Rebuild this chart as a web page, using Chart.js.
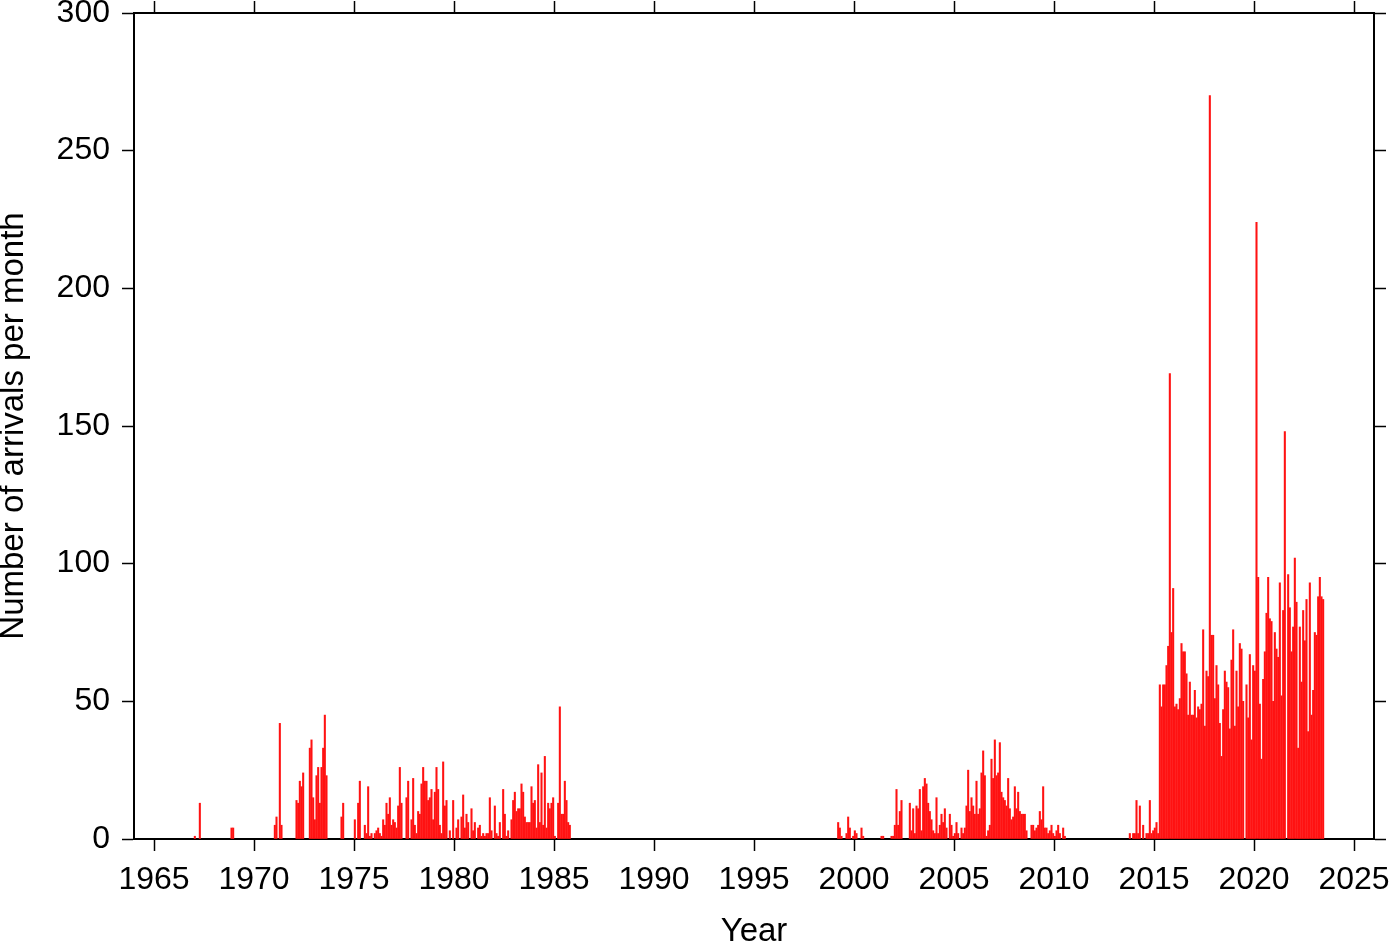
<!DOCTYPE html>
<html>
<head>
    <title>Arrivals per month</title>
    <script src="https://cdn.jsdelivr.net/npm/chart.js"></script>
    <style>
        body { margin: 0; background: #fff; }
        canvas { display: block; }
    </style>
</head>
<body>
    <canvas id="arrivalsChart" width="1400" height="942"></canvas>
    <script>
        // tick labels
        const xTicks = [1965, 1970, 1975, 1980, 1985, 1990, 1995, 2000, 2005, 2010, 2015, 2020, 2025];
        const yTicks = [0, 50, 100, 150, 200, 250, 300];

        // monthly counts, one row per year, starting in January of the given year
        const start1 = 1967;
        const counts1 = [
            1, 0, 0, 13, 0, 0, 0, 0, 0, 0, 0, 0,
            0, 0, 0, 0, 0, 0, 0, 0, 0, 0, 4, 4,
            0, 0, 0, 0, 0, 0, 0, 0, 0, 0, 0, 0,
            0, 0, 0, 0, 0, 0, 0, 0, 0, 0, 0, 0,
            5, 8, 0, 42, 5, 0, 0, 0, 0, 0, 0, 0,
            0, 14, 13, 21, 19, 24, 0, 0, 0, 33, 36, 15,
            7, 23, 26, 13, 26, 33, 45, 23, 0, 0, 0, 0,
            0, 0, 0, 0, 8, 13, 0, 0, 0, 0, 0, 0,
            7, 0, 13, 21, 0, 0, 5, 2, 19, 1, 2, 0,
            2, 3, 4, 2, 1, 7, 5, 13, 9, 15, 5, 7,
            6, 4, 12, 26, 13, 0, 0, 15, 21, 0, 7, 22,
            5, 2, 10, 9, 20, 26, 21, 21, 14, 15, 18, 7,
            17, 26, 18, 5, 2, 28, 12, 14, 0, 3, 0, 14,
            0, 4, 7, 0, 8, 16, 4, 9, 6, 0, 11, 3,
            6, 0, 4, 5, 1, 2, 1, 2, 2, 15, 3, 0,
            12, 2, 1, 6, 0, 18, 9, 1, 3, 0, 7, 14,
            17, 10, 11, 11, 20, 17, 8, 6, 6, 6, 19, 13,
            14, 4, 27, 6, 24, 5, 30, 4, 13, 11, 13, 15,
            1, 0, 13, 48, 9, 9, 21, 14, 6, 5, 0, 0
        ];

        const start2 = 1999;
        const counts2 = [
            0, 0, 6, 4, 1, 0, 0, 2, 8, 4, 0, 1,
            3, 2, 0, 0, 4, 1, 0, 0, 0, 0, 0, 0,
            0, 0, 0, 0, 1, 1, 0, 0, 0, 0, 1, 1,
            5, 18, 5, 10, 14, 0, 0, 0, 0, 13, 3, 11,
            2, 12, 11, 18, 3, 19, 22, 20, 13, 10, 7, 3,
            2, 15, 2, 5, 9, 6, 11, 4, 0, 9, 5, 1,
            2, 6, 2, 0, 4, 2, 4, 12, 25, 10, 15, 12,
            9, 21, 9, 11, 24, 32, 23, 1, 3, 5, 29, 22,
            36, 23, 24, 35, 17, 15, 14, 12, 22, 11, 7, 8,
            19, 11, 17, 10, 9, 9, 9, 3, 0, 0, 5, 5,
            3, 4, 5, 10, 7, 19, 4, 4, 2, 3, 5, 2,
            1, 3, 5, 2, 0, 4, 1
        ];

        const start3 = 2013;
        const counts3 = [
            0, 0, 0, 0, 0, 0, 0, 0, 0, 2, 0, 2,
            2, 14, 2, 12, 0, 5, 0, 2, 2, 14, 2, 3,
            4, 6, 2, 56, 48, 56, 56, 63, 70, 169, 75, 91,
            48, 49, 47, 51, 71, 68, 68, 60, 45, 57, 45, 45,
            54, 44, 48, 47, 49, 76, 41, 61, 59, 270, 74, 74,
            51, 63, 56, 42, 30, 47, 61, 57, 55, 40, 65, 76,
            41, 61, 48, 71, 69, 50, 0, 56, 44, 67, 36, 63,
            61, 224, 95, 49, 29, 58, 68, 82, 95, 80, 79, 50,
            75, 69, 66, 93, 52, 83, 148, 0, 96, 84, 68, 77,
            102, 86, 33, 77, 57, 83, 72, 87, 39, 93, 45, 54,
            75, 74, 88, 95, 88, 87
        ];

        function toPoints(startYear, counts) {
            const pts = [];
            counts.forEach((v, i) => {
                if (v > 0) pts.push({ x: startYear + (i + 0.5) / 12, y: v });
            });
            return pts;
        }

        const points = [
            ...toPoints(start1, counts1),
            ...toPoints(start2, counts2),
            ...toPoints(start3, counts3)
        ];

        const fontFamily = '"Liberation Sans", Arial, Helvetica, sans-serif';
        const tickFont = { family: fontFamily, size: 32 };
        const yTitleFont = { family: fontFamily, size: 33, lineHeight: 0.85 };
        const xTitleFont = { family: fontFamily, size: 33, lineHeight: 0.6 };

        const frameGrid = {
            offset: false,
            drawOnChartArea: false,
            drawTicks: true,
            tickLength: 12,
            tickWidth: 1.5,
            tickColor: '#000'
        };
        const frameBorder = { display: true, color: '#000', width: 2 };

        const setXTicks = scale => { scale.ticks = xTicks.map(v => ({ value: v })); };
        const setYTicks = scale => { scale.ticks = yTicks.map(v => ({ value: v })); };

        // fixed frame: plot area 134..1374 x 13..839
        const fixSize = (w, h) => scale => {
            if (w !== null) scale.width = w;
            if (h !== null) scale.height = h;
            scale.paddingTop = 0;
            scale.paddingBottom = 0;
            scale.paddingLeft = 0;
            scale.paddingRight = 0;
        };

        const ctx = document.getElementById('arrivalsChart').getContext('2d');
        new Chart(ctx, {
            type: 'bar',
            data: {
                datasets: [{
                    label: 'Arrivals',
                    data: points,
                    backgroundColor: 'rgb(255, 18, 18)',
                    borderWidth: 0,
                    barThickness: 1.4,
                    xAxisID: 'x',
                    yAxisID: 'y'
                }]
            },
            options: {
                responsive: false,
                animation: false,
                layout: { padding: 0 },
                plugins: {
                    legend: { display: false },
                    tooltip: { enabled: false }
                },
                scales: {
                    x: {
                        type: 'linear',
                        position: 'bottom',
                        min: 1964,
                        max: 2026,
                        offset: false,
                        afterBuildTicks: setXTicks,
                        afterFit: fixSize(null, 103),
                        grid: frameGrid,
                        border: frameBorder,
                        ticks: {
                            font: tickFont,
                            color: '#000',
                            padding: 10,
                            maxRotation: 0,
                            autoSkip: false,
                            callback: v => String(v)
                        },
                        title: {
                            display: true,
                            text: 'Year',
                            font: xTitleFont,
                            color: '#000',
                            padding: 0
                        }
                    },
                    x2: {
                        type: 'linear',
                        axis: 'x',
                        position: 'top',
                        min: 1964,
                        max: 2026,
                        offset: false,
                        afterBuildTicks: setXTicks,
                        afterFit: fixSize(null, 13),
                        grid: frameGrid,
                        border: frameBorder,
                        ticks: { display: false }
                    },
                    y: {
                        type: 'linear',
                        position: 'left',
                        min: 0,
                        max: 300,
                        afterBuildTicks: setYTicks,
                        afterFit: fixSize(134, null),
                        grid: frameGrid,
                        border: frameBorder,
                        ticks: {
                            font: tickFont,
                            color: '#000',
                            padding: 12,
                            callback: v => String(v)
                        },
                        title: {
                            display: true,
                            text: 'Number of arrivals per month',
                            font: yTitleFont,
                            color: '#000',
                            padding: 0
                        }
                    },
                    y2: {
                        type: 'linear',
                        axis: 'y',
                        position: 'right',
                        min: 0,
                        max: 300,
                        afterBuildTicks: setYTicks,
                        afterFit: fixSize(26, null),
                        grid: frameGrid,
                        border: frameBorder,
                        ticks: { display: false }
                    }
                }
            }
        });
    </script>
</body>
</html>
